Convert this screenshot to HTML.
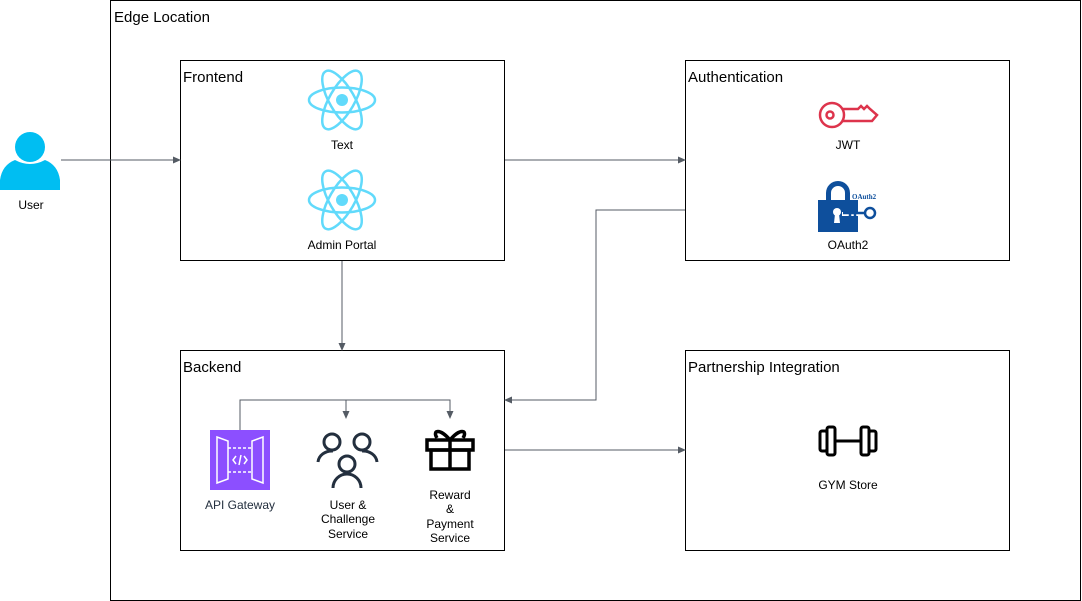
<!DOCTYPE html>
<html><head><style>
body{margin:0;width:1082px;height:601px;background:#fff;overflow:hidden;font-family:"Liberation Sans",sans-serif}
svg{position:absolute;left:0;top:0}
</style></head><body>
<svg width="1082" height="601" viewBox="0 0 1082 601" font-family="Liberation Sans, sans-serif">
<defs><marker id="a" markerWidth="8" markerHeight="8" refX="7" refY="4" orient="auto" markerUnits="userSpaceOnUse"><path d="M0,0.5 L8,4 L0,7.5 Z" fill="#545b64"/></marker></defs>
<rect x="110.5" y="0.5" width="970" height="600" fill="#fff" stroke="#000"/>
<text x="114" y="22" font-size="15">Edge Location</text>
<g fill="none" stroke="#000"><rect x="180.5" y="60.5" width="324" height="200"/><rect x="685.5" y="60.5" width="324" height="200"/><rect x="180.5" y="350.5" width="324" height="200"/><rect x="685.5" y="350.5" width="324" height="200"/></g>
<g font-size="15"><text x="183" y="82">Frontend</text><text x="688" y="82">Authentication</text><text x="183" y="372">Backend</text><text x="688" y="372">Partnership Integration</text></g>
<g stroke="#545b64" fill="none" marker-end="url(#a)">
<path d="M61,160 H180"/><path d="M505,160 H685"/><path d="M342,261 V350"/>
<path d="M685,210 H596 V400 H505"/><path d="M505,450 H685"/>
<path d="M240,430 V400 H346 V418"/><path d="M346,400 H450 V418"/>
</g>
<g fill="#00bef2"><circle cx="30" cy="147" r="15"/><path d="M0,190 V180 Q2,165 15,160 Q30,168 45,160 Q58,165 60,180 V190 Z"/></g>
<text x="31" y="209" font-size="12" text-anchor="middle">User</text>
<g fill="none" stroke="#61dafb" stroke-width="2.5">
<g transform="translate(342,100)"><ellipse rx="33" ry="12.5"/><ellipse rx="33" ry="12.5" transform="rotate(60)"/><ellipse rx="33" ry="12.5" transform="rotate(120)"/></g>
<g transform="translate(342,200)"><ellipse rx="33" ry="12.5"/><ellipse rx="33" ry="12.5" transform="rotate(60)"/><ellipse rx="33" ry="12.5" transform="rotate(120)"/></g>
</g>
<circle cx="342" cy="100" r="6" fill="#61dafb"/><circle cx="342" cy="200" r="6" fill="#61dafb"/>
<g font-size="12" text-anchor="middle"><text x="342" y="149">Text</text><text x="342" y="249">Admin Portal</text>
<text x="848" y="149">JWT</text><text x="848" y="249">OAuth2</text>
<text x="240" y="509" fill="#232f3e">API Gateway</text>
<text x="348" y="509">User &amp;</text><text x="348" y="523">Challenge</text><text x="348" y="538">Service</text>
<text x="450" y="499">Reward</text><text x="450" y="513">&amp;</text><text x="450" y="528">Payment</text><text x="450" y="542">Service</text>
<text x="848" y="489">GYM Store</text></g>
<g fill="none" stroke="#dd344c" stroke-width="2.5"><circle cx="832" cy="115" r="12"/><circle cx="830" cy="115" r="3.5"/><path d="M843,109 H858 L861,106 L864,109 L867,106 L870,109 L877,115 L872,121 H843"/></g>
<g fill="#0e4f9c"><path d="M826,200 V193 A12,12 0 0 1 850,193 V200 H845 V193 A7,7 0 0 0 831,193 V200 Z"/><rect x="818" y="200" width="40" height="32"/></g>
<circle cx="837" cy="212" r="4" fill="#fff"/><path d="M835,214 L834,223 H840 L839,214Z" fill="#fff"/>
<g fill="none" stroke="#fff" stroke-width="4"><path d="M842,214 H866"/></g>
<g fill="none" stroke="#0e4f9c" stroke-width="2.5"><circle cx="870" cy="213" r="5"/><path d="M843,213 H865 M850,213 V220 M855,213 V218"/></g>
<text x="852" y="199" font-size="7" font-weight="bold" fill="#0e4f9c" font-family="Liberation Serif, serif">OAuth2</text>
<rect x="210" y="430" width="60" height="60" fill="#8c4fff"/>
<g fill="none" stroke="#fff" stroke-width="1.5"><path d="M217,437 L228,441 V479 L217,483 Z M263,437 L252,441 V479 L263,483 Z"/><path d="M228,448 H252 M228,472 H252" stroke-dasharray="3,2"/><path d="M236,456 L233,460 L236,464 M244,456 L247,460 L244,464 M241,455 L239,465"/></g>
<g fill="none" stroke="#232f3e" stroke-width="3"><circle cx="332" cy="442" r="8"/><circle cx="362" cy="442" r="8"/><circle cx="347" cy="464" r="8"/><path d="M318,462 A14,12 0 0 1 333,451 M377,462 A14,12 0 0 0 362,451 M333,488 A14,14 0 0 1 361,488"/></g>
<g fill="none" stroke="#000" stroke-width="3.5"><rect x="427" y="440" width="46" height="10"/><rect x="431" y="450" width="38" height="19"/><path d="M450,440 V469"/><path d="M450,440 C440,428 432,430 437,438 M450,440 C460,428 468,430 463,438"/></g>
<g fill="none" stroke="#000" stroke-width="3"><rect x="820" y="431" width="7" height="20" rx="2"/><rect x="827" y="427" width="8" height="28" rx="2"/><rect x="861" y="427" width="8" height="28" rx="2"/><rect x="869" y="431" width="7" height="20" rx="2"/><path d="M835,441 H861"/></g>
</svg>
</body></html>
